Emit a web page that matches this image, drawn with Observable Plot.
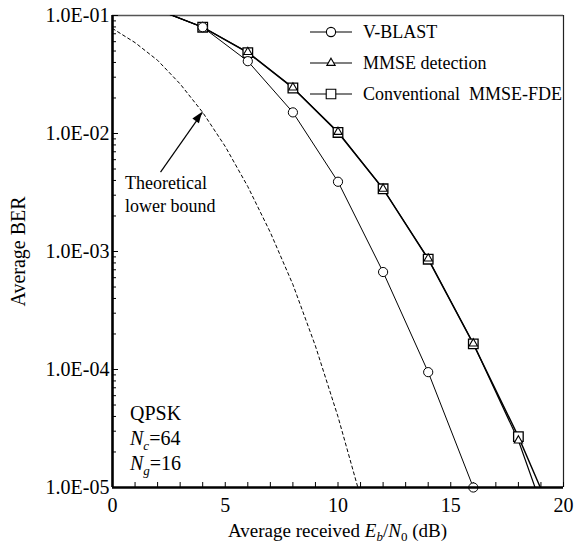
<!DOCTYPE html>
<html>
<head>
<meta charset="utf-8">
<script src="https://cdn.jsdelivr.net/npm/d3@7"></script>
<script src="https://cdn.jsdelivr.net/npm/@observablehq/plot@0.6"></script>
<style>
  body { margin: 0; background: #fff; }
  #chart svg { display: block; }
</style>
</head>
<body>
<div id="chart"></div>
<script>
// ---- data ----
const snrSim = [2, 4, 6, 8, 10, 12, 14, 16, 18, 20];
const vblastBER = [0.112, 0.0796, 0.041, 0.0151, 0.0039, 0.00067, 0.000095, 0.00001];
const mmseBER = [0.112, 0.0796, 0.0489, 0.0245, 0.0103, 0.0034, 0.00087, 0.000166, 0.000025, 0.0000021];
const convBER = [0.112, 0.0796, 0.0485, 0.0243, 0.0102, 0.0034, 0.00086, 0.000165, 0.000027, 0.0000035];
const snrBound = [0, 1, 2, 3, 4, 5, 6, 7, 8, 9, 10, 11];
const boundBER = [0.0776, 0.0589, 0.0417, 0.0263, 0.0151, 0.00776, 0.00355, 0.00145, 0.000525, 0.000158, 0.0000398, 0.0000083];

const seriesNames = ["V-BLAST", "MMSE detection", "Conventional  MMSE-FDE"];

const xTicks = [0, 5, 10, 15, 20];
const xMinorTicks = d3.range(0, 21, 1);
const yTicks = [1e-1, 1e-2, 1e-3, 1e-4, 1e-5];
const yTickLabels = ["1.0E-01", "1.0E-02", "1.0E-03", "1.0E-04", "1.0E-05"];
const yMinorTicks = [1e-5, 1e-4, 1e-3, 1e-2].flatMap(d => d3.range(2, 10).map(k => k * d));

const annotationArrow = [{x1: 2.13, y1: 0.0047, x2: 3.99, y2: 0.0151}];
const annotationNote = ["Theoretical", "lower bound"];
const paramLines = [["QPSK"], ["N", "c", "=64"], ["N", "g", "=16"]];

// ---- build tables ----
const mk = (xs, ys, name) => ys.map((y, i) => ({x: xs[i], y, name}));
const vblast = mk(snrSim, vblastBER, seriesNames[0]);
const mmse = mk(snrSim, mmseBER, seriesNames[1]);
const conv = mk(snrSim, convBER, seriesNames[2]);
const bound = mk(snrBound, boundBER, "bound");
const inFrame = d => d.y <= 0.1 && d.y >= 1e-5;

const W = 579, H = 548, mL = 112, mR = 16, mT = 15, mB = 61;
const frameW = W - mL - mR, frameH = H - mT - mB;
const FONT = "'Liberation Serif', 'Times New Roman', serif";

const chart = Plot.plot({
  width: W, height: H,
  marginLeft: mL, marginRight: mR, marginTop: mT, marginBottom: mB,
  style: {fontFamily: FONT, fontSize: "20px", color: "black", background: "white"},
  x: {domain: [0, 20], axis: null},
  y: {type: "log", domain: [1e-5, 1e-1], axis: null},
  marks: [
    // frame
    Plot.ruleY([1e-1], {stroke: "#555", strokeWidth: 1.5}),
    Plot.ruleX([20], {stroke: "#222", strokeWidth: 1.2}),
    // minor ticks (inward)
    Plot.tickY(yMinorTicks, {y: d => d, insetRight: frameW - 4, stroke: "black", strokeWidth: 1}),
    Plot.tickY(yTicks, {y: d => d, insetRight: frameW - 6, stroke: "black", strokeWidth: 1}),
    Plot.tickX(xMinorTicks, {x: d => d, insetTop: frameH - 5, stroke: "black", strokeWidth: 1}),
    // tick labels
    Plot.axisY({ticks: yTicks, tickFormat: d => yTickLabels[yTicks.indexOf(d)], tickSize: 0, tickPadding: 3, label: null, fontSize: 20}),
    Plot.axisX({ticks: xTicks, tickFormat: d => String(d), tickSize: 0, tickPadding: 10, label: null, fontSize: 20}),
    // theoretical bound
    Plot.line(bound, {x: "x", y: "y", stroke: "black", strokeWidth: 1, strokeDasharray: "3,3", clip: true}),
    // simulated curves
    Plot.line(conv, {x: "x", y: "y", stroke: "black", strokeWidth: 1.4, clip: true}),
    Plot.line(mmse, {x: "x", y: "y", stroke: "black", strokeWidth: 1.2, clip: true}),
    Plot.line(vblast, {x: "x", y: "y", stroke: "black", strokeWidth: 1, clip: true}),
    Plot.dot(conv.filter(inFrame), {x: "x", y: "y", symbol: "square", r: 5.4, fill: "white", stroke: "black", strokeWidth: 1.3}),
    Plot.dot(mmse.filter(inFrame), {x: "x", y: "y", symbol: "triangle", r: 3.1, fill: "white", stroke: "black", strokeWidth: 1.1}),
    Plot.dot(vblast.filter(inFrame), {x: "x", y: "y", symbol: "circle", r: 4.6, fill: "white", stroke: "black", strokeWidth: 1}),
    // annotation arrow shaft
    Plot.link(annotationArrow, {x1: "x1", y1: "y1", x2: "x2", y2: "y2", stroke: "black", strokeWidth: 1.2}),
    // axes lines (thick, left & bottom)
    Plot.ruleX([0], {stroke: "black", strokeWidth: 2.6}),
    Plot.ruleY([1e-5], {stroke: "black", strokeWidth: 2.6}),
    // y-axis title
    Plot.text(["Average BER"], {frameAnchor: "left", textAnchor: "middle", dx: -94, rotate: -90, fontSize: 20, fill: "black"})
  ]
});
document.getElementById("chart").appendChild(chart);

// ---- rich-text annotations & legend via scales ----
const sx = chart.scale("x"), sy = chart.scale("y");
const svg = d3.select(chart);

// arrow head (filled)
{
  const a = annotationArrow[0];
  const px1 = sx.apply(a.x1), py1 = sy.apply(a.y1), px2 = sx.apply(a.x2), py2 = sy.apply(a.y2);
  const ang = Math.atan2(py2 - py1, px2 - px1);
  const L = 11, Wd = 4;
  const bx = px2 - L * Math.cos(ang), by = py2 - L * Math.sin(ang);
  const nx = -Math.sin(ang) * Wd, ny = Math.cos(ang) * Wd;
  svg.append("path")
    .attr("d", `M${px2},${py2}L${bx + nx},${by + ny}L${bx - nx},${by - ny}Z`)
    .attr("fill", "black");
}

// annotation note
const noteX = sx.apply(0) + 13;
annotationNote.forEach((t, i) => {
  svg.append("text").attr("x", noteX).attr("y", 189 + i * 23).attr("text-anchor", "start")
    .attr("font-family", FONT).attr("font-size", 18).text(t);
});

// parameter block
const parX = sx.apply(0) + 18;
paramLines.forEach((parts, i) => {
  const t = svg.append("text").attr("x", parX).attr("y", 420 + i * 25).attr("text-anchor", "start")
    .attr("font-family", FONT).attr("font-size", 20);
  if (parts.length === 1) t.text(parts[0]);
  else {
    t.append("tspan").attr("font-style", "italic").text(parts[0]);
    t.append("tspan").attr("font-style", "italic").attr("font-size", 13).attr("dy", 5).text(parts[1]);
    t.append("tspan").attr("dy", -5).text(parts[2]);
  }
});

// x-axis title
{
  const t = svg.append("text").attr("x", (sx.apply(0) + sx.apply(20)) / 2).attr("y", 537)
    .attr("text-anchor", "middle").attr("font-family", FONT).attr("font-size", 19);
  t.append("tspan").text("Average received ");
  t.append("tspan").attr("font-style", "italic").text("E");
  t.append("tspan").attr("font-style", "italic").attr("font-size", 13).attr("dy", 4).text("b");
  t.append("tspan").attr("dy", -4).text("/");
  t.append("tspan").attr("font-style", "italic").text("N");
  t.append("tspan").attr("font-size", 13).attr("dy", 4).text("0");
  t.append("tspan").attr("dy", -4).text(" (dB)");
}

// legend
seriesNames.forEach((name, i) => {
  const y = 32 + i * 31;
  const g = svg.append("g");
  g.append("line").attr("x1", 310).attr("x2", 352).attr("y1", y).attr("y2", y)
    .attr("stroke", "black").attr("stroke-width", 1.2);
  const r = [4.6, 3.1, 5.4][i];
  g.append("path").attr("transform", `translate(331,${y})`)
    .attr("d", d3.symbol(i === 0 ? d3.symbolCircle : i === 1 ? d3.symbolTriangle : d3.symbolSquare, Math.PI * r * r)())
    .attr("fill", "white").attr("stroke", "black").attr("stroke-width", 1.1);
  g.append("text").attr("x", 363).attr("y", y).attr("dy", "0.35em").attr("text-anchor", "start")
    .attr("font-family", FONT).attr("font-size", 18)
    .style("white-space", "pre").text(name);
});
</script>
</body>
</html>
